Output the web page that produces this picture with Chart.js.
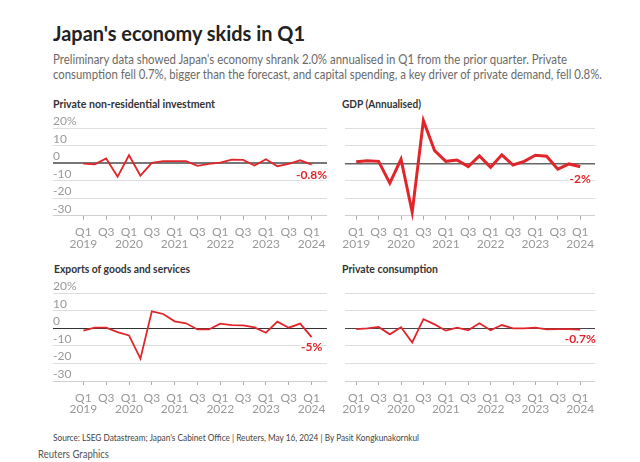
<!DOCTYPE html>
<html><head><meta charset="utf-8">
<script src="https://cdn.jsdelivr.net/npm/chart.js@4.4.1/dist/chart.umd.min.js"></script>
<style>
html,body{margin:0;padding:0;background:#fff;}
body{width:640px;height:462px;position:relative;overflow:hidden;font-family:Lato,"Noto Sans",sans-serif;}
.t{position:absolute;white-space:nowrap;transform-origin:0 50%;line-height:1;}
canvas{position:absolute;}
</style></head><body>
<div class="t" data-w="252" style="left:53px;top:22px;font-size:21px;font-weight:700;color:#222">Japan's economy skids in Q1</div>
<div class="t" data-w="514" style="left:53px;top:53px;font-size:13.5px;color:#6a6a6a">Preliminary data showed Japan's economy shrank 2.0% annualised in Q1 from the prior quarter. Private</div>
<div class="t" data-w="549" style="left:53px;top:68px;font-size:13.5px;color:#6a6a6a">consumption fell 0.7%, bigger than the forecast, and capital spending, a key driver of private demand, fell 0.8%.</div>
<div class="t" data-w="162" style="left:53px;top:98px;font-size:12px;font-weight:700;color:#333">Private non-residential investment</div>
<div class="t" data-w="79" style="left:342px;top:98px;font-size:12px;font-weight:700;color:#333">GDP (Annualised)</div>
<div class="t" data-w="136" style="left:54px;top:263px;font-size:12px;font-weight:700;color:#333">Exports of goods and services</div>
<div class="t" data-w="96" style="left:342px;top:263px;font-size:12px;font-weight:700;color:#333">Private consumption</div>
<div class="t" data-w="366" style="left:53px;top:432px;font-size:10px;color:#444">Source: LSEG Datastream; Japan's Cabinet Office | Reuters, May 16, 2024 | By Pasit Kongkunakornkul</div>
<div class="t" data-w="71" style="left:38px;top:449px;font-size:10.5px;color:#555">Reuters Graphics</div>
<canvas id="c1" width="280" height="145" style="left:53px;top:110px;width:280px;height:145px"></canvas>
<canvas id="c2" width="270" height="145" style="left:335px;top:110px;width:270px;height:145px"></canvas>
<canvas id="c3" width="280" height="145" style="left:53px;top:275px;width:280px;height:145px"></canvas>
<canvas id="c4" width="270" height="145" style="left:335px;top:275px;width:270px;height:145px"></canvas>
<script>
const quarters = ['Q1 2019','Q2 2019','Q3 2019','Q4 2019','Q1 2020','Q2 2020','Q3 2020','Q4 2020','Q1 2021','Q2 2021','Q3 2021','Q4 2021','Q1 2022','Q2 2022','Q3 2022','Q4 2022','Q1 2023','Q2 2023','Q3 2023','Q4 2023','Q1 2024'];
const investment = [-0.2,-0.6,2.7,-7.7,4.6,-7.1,0.2,1.2,1.2,1.2,-1.5,-0.4,0.4,2.1,1.9,-1.3,2.3,-1.7,-0.4,1.7,-0.8];
const gdp = [0.8,1.5,1.1,-11.4,2.3,-28.0,24.4,7.2,1.1,1.9,-1.9,4.2,-2.3,4.8,-1.0,1.1,4.6,4.0,-3.4,-0.4,-2.0];
const exportsGS = [-1.3,0.4,0.4,-2.1,-4.0,-17.3,9.7,8.2,4.0,2.9,-0.6,-0.6,2.7,1.9,1.7,0.6,-2.5,3.8,0.4,2.7,-5.0];
const consumption = [-0.4,0.0,0.8,-3.4,0.6,-8.0,5.3,2.3,-1.3,0.4,-1.1,2.9,-1.1,1.9,0.0,0.0,0.4,-0.6,-0.4,-0.4,-0.7];
const xTickLabels = [['Q1','2019'],'Q3',['Q1','2020'],'Q3',['Q1','2021'],'Q3',['Q1','2022'],'Q3',['Q1','2023'],'Q3',['Q1','2024']];
const yTickLabels = ['20%','10','0','-10','-20','-30'];
const endLabels = ['-0.8%','-2%','-5%','-0.7%'];

const RED = '#e1262b';
const FONT = 'Lato, "Noto Sans", sans-serif';

document.querySelectorAll('[data-w]').forEach(el=>{
  const w = el.getBoundingClientRect().width;
  el.style.transform = 'scaleX(' + (parseFloat(el.dataset.w)/w) + ')';
});

const endLabelPlugin = {
  id:'endLabel',
  afterDatasetsDraw(chart, args, opts){
    const meta = chart.getDatasetMeta(0);
    const pt = meta.data[meta.data.length-1];
    const ctx = chart.ctx;
    ctx.save();
    ctx.font = '700 12px ' + FONT;
    ctx.textAlign = 'center';
    ctx.textBaseline = 'middle';
    ctx.lineWidth = 3; ctx.strokeStyle = '#fff'; ctx.lineJoin='round';
    ctx.strokeText(opts.text, pt.x, pt.y + opts.dy);
    ctx.fillStyle = RED;
    ctx.fillText(opts.text, pt.x, pt.y + opts.dy);
    ctx.restore();
  }
};

function makeChart(id, values, endLabel, o){
  new Chart(document.getElementById(id), {
    type:'line',
    data:{ labels: quarters, datasets:[{ data: values.map((v,i)=>({x:i,y:v})), borderColor:RED, borderWidth:o.lw,
      pointRadius:0, tension:0, borderJoinStyle:'miter', clip:false, fill:false }]},
    options:{
      responsive:false, animation:false, devicePixelRatio:1,
      layout:{padding:{left:o.pl, right:o.pr, top:18.3, bottom:0}},
      plugins:{legend:{display:false}, tooltip:{enabled:false}, endLabel:{text:endLabel, dy:o.dy}},
      scales:{
        x:{ type:'linear', min:o.xmin, max:o.xmax,
          afterBuildTicks: s => { s.ticks = xTickLabels.map((l,k)=>({value:k*2})); },
          afterFit: s => { s.height = o.xh; },
          border:{display:false},
          grid:{drawOnChartArea:false, drawTicks:true, tickLength:4, color:'#aaa', lineWidth:1},
          ticks:{ autoSkip:false, maxRotation:0, padding:7, color:'#999', font:{family:FONT, size:12, lineHeight:0.97},
            callback:(v)=>xTickLabels[Math.round(v/2)] } },
        y:{ min:-30, max:20,
          afterBuildTicks: s => { s.ticks = yTickLabels.map((l,k)=>({value:20-10*k})); },
          afterFit: s => { s.width = 0; },
          border:{display:false},
          grid:{ drawTicks:false,
            color: c => c.tick.value===0 ? o.zc : (c.tick.value===-30 ? '#cfcfcf' : '#dedede'),
            lineWidth: c => c.tick.value===0 ? o.zw : 1 },
          ticks:{ display:o.showY, mirror:true, padding:0, labelOffset:-7, color:'#999', font:{family:FONT, size:12},
            callback: v => yTickLabels[Math.round((20-v)/10)] } }
      }
    },
    plugins:[endLabelPlugin]
  });
}

makeChart('c1', investment, endLabels[0], {lw:1.8, pl:0, pr:6, xmin:-2.66, xmax:21.35, xh:39.3, showY:true, zc:'#777', zw:2, dy:10});
makeChart('c2', gdp, endLabels[1], {lw:3, pl:6.7, pr:10, xmin:-0.97, xmax:21.32, xh:39.3, showY:false, zc:'#666', zw:1.5, dy:12});
makeChart('c3', exportsGS, endLabels[2], {lw:1.8, pl:0, pr:6, xmin:-2.66, xmax:21.35, xh:39, showY:true, zc:'#333', zw:1, dy:9.5});
makeChart('c4', consumption, endLabels[3], {lw:1.8, pl:6.7, pr:10, xmin:-0.97, xmax:21.32, xh:39, showY:false, zc:'#444', zw:1, dy:10});
</script>
</body></html>
